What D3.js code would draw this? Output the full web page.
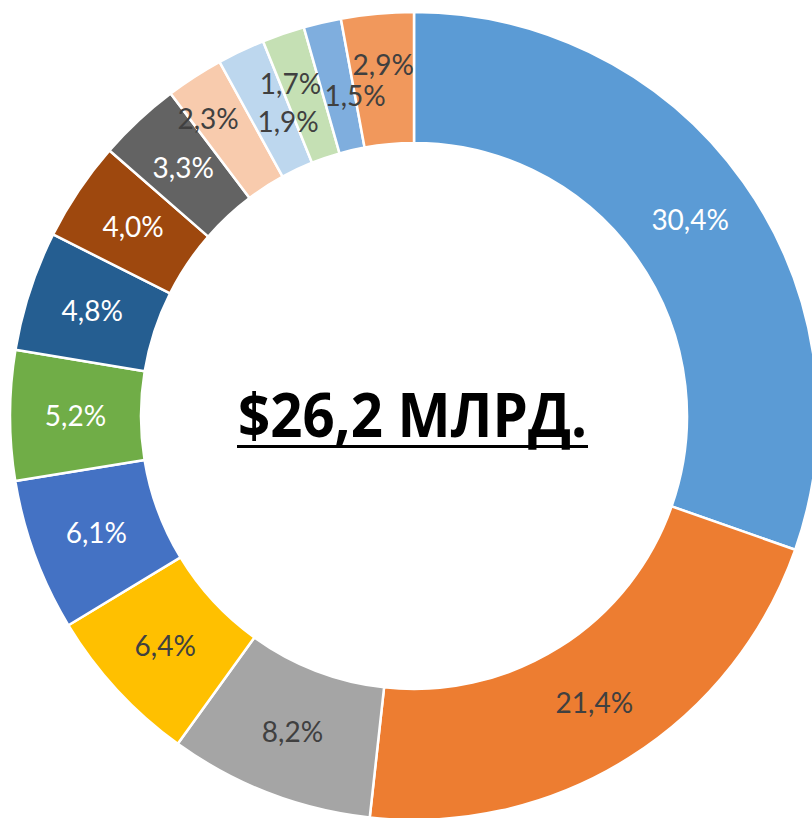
<!DOCTYPE html>
<html>
<head>
<meta charset="utf-8">
<script src="https://cdn.jsdelivr.net/npm/d3@7"></script>
<style>
  html, body { margin: 0; padding: 0; background: #ffffff; overflow: hidden; }
  svg { display: block; }
</style>
</head>
<body>
<svg id="chart" width="812" height="818"></svg>
<script>
// ---- data ----
const categories = ["A", "B", "C", "D", "E", "F", "G", "H", "I", "J", "K", "L", "M", "N"];
const values = [30.4, 21.4, 8.2, 6.4, 6.1, 5.2, 4.8, 4.0, 3.3, 2.3, 1.9, 1.7, 1.5, 2.9];
const valueLabels = ["30,4%", "21,4%", "8,2%", "6,4%", "6,1%", "5,2%", "4,8%", "4,0%", "3,3%", "2,3%", "1,9%", "1,7%", "1,5%", "2,9%"];
const centerTitle = "$26,2 МЛРД.";

// ---- styles ----
const colors = ["#5B9BD5", "#ED7D31", "#A5A5A5", "#FFC000", "#4472C4", "#70AD47",
                "#255E91", "#9E480E", "#636363", "#F8CBAD", "#BDD7EE", "#C5E0B4",
                "#7FAEDE", "#F1985C"];
const labelColors = ["#ffffff", "#404040", "#404040", "#404040", "#ffffff", "#ffffff",
                     "#ffffff", "#ffffff", "#ffffff", "#404040", "#404040", "#404040",
                     "#404040", "#404040"];
// manual nudges applied to crowded labels (as in the reference)
const labelNudge = { "J": [-22, -13], "K": [19, 12], "L": [-14, -12], "M": [18, 10], "N": [0, -14] };

const cx = 414, cy = 416, outerR = 404, innerR = 273;

const svg = d3.select("#chart");
const g = svg.append("g").attr("transform", `translate(${cx},${cy})`);

const data = categories.map((c, i) => ({ cat: c, value: values[i], label: valueLabels[i], i }));

const pie = d3.pie().sort(null).value(d => d.value);
const arc = d3.arc().innerRadius(innerR).outerRadius(outerR);
const labelArc = d3.arc().innerRadius((innerR + outerR) / 2).outerRadius((innerR + outerR) / 2);

const arcs = pie(data);

g.selectAll("path.slice")
  .data(arcs)
  .join("path")
  .attr("class", "slice")
  .attr("d", arc)
  .attr("fill", d => colors[d.data.i])
  .attr("stroke", "#ffffff")
  .attr("stroke-width", 2.5)
  .attr("stroke-linejoin", "round");

g.selectAll("text.lbl")
  .data(arcs)
  .join("text")
  .attr("class", "lbl")
  .attr("transform", d => {
    const [x, y] = labelArc.centroid(d);
    const n = labelNudge[d.data.cat] || [0, 0];
    return `translate(${x + n[0]},${y + n[1]})`;
  })
  .attr("text-anchor", "middle")
  .attr("dy", "0.36em")
  .attr("font-family", "Lato, 'Open Sans', sans-serif")
  .attr("font-size", 28)
  .attr("fill", d => labelColors[d.data.i])
  .text(d => d.data.label);

// center title
g.append("text")
  .attr("x", -1.5)
  .attr("y", 21)
  .attr("text-anchor", "middle")
  .attr("font-family", "'Open Sans', 'Noto Sans', sans-serif")
  .attr("font-weight", "bold")
  .attr("font-size", 60)
  .attr("fill", "#000000")
  .attr("textLength", 349)
  .attr("lengthAdjust", "spacingAndGlyphs")
  .text(centerTitle);

g.append("rect")
  .attr("x", -177)
  .attr("y", 29)
  .attr("width", 351)
  .attr("height", 3)
  .attr("fill", "#000000");
</script>
</body>
</html>
